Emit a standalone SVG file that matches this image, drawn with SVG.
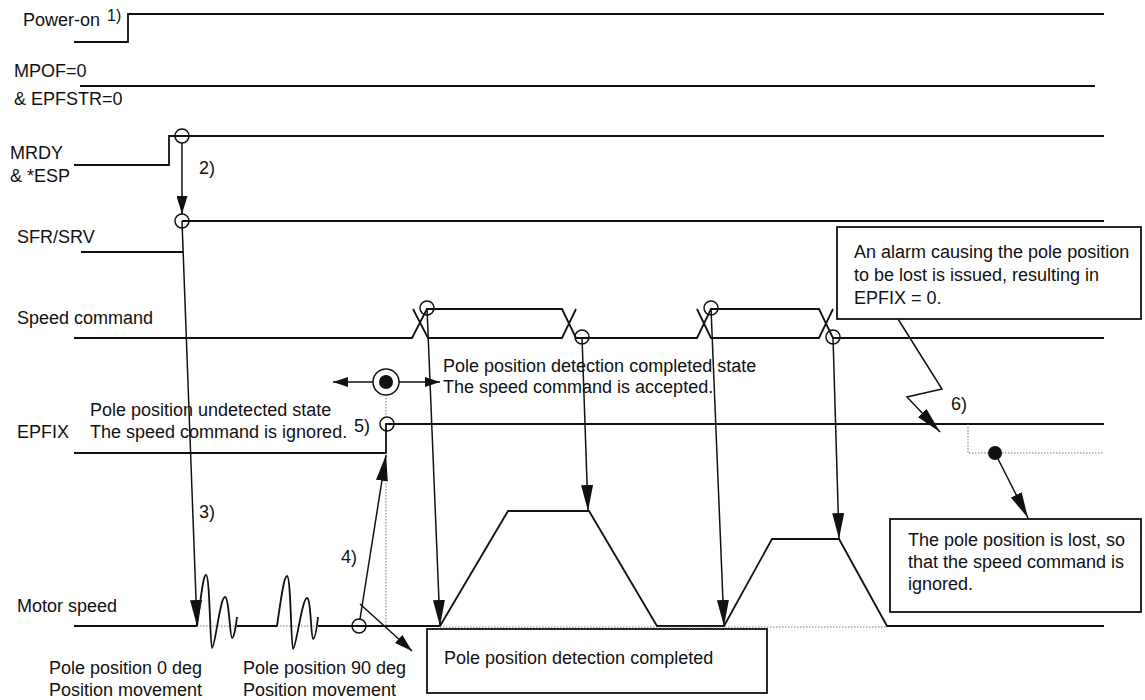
<svg xmlns="http://www.w3.org/2000/svg" width="1145" height="700" viewBox="0 0 1145 700">
<style>
text{font-family:"Liberation Sans",Arial,sans-serif;font-size:18px;fill:#111}
.sig{fill:none;stroke:#111;stroke-width:1.8;stroke-linejoin:miter}
.wig{fill:none;stroke:#111;stroke-width:1.8}
.con{fill:none;stroke:#111;stroke-width:1.5}
.dot{fill:none;stroke:#777;stroke-width:1;stroke-dasharray:1.5,1.5}
.oc{fill:none;stroke:#111;stroke-width:1.5}
.box{fill:#fff;stroke:#111;stroke-width:1.8}
</style>
<defs>
<marker id="ah" viewBox="0 0 18 11" refX="18" refY="5.5" markerWidth="18" markerHeight="11" markerUnits="userSpaceOnUse" orient="auto"><path d="M0,0 L18,5.5 L0,11 z" fill="#111"/></marker>
<marker id="ahL" viewBox="0 0 26 12" refX="26" refY="6" markerWidth="26" markerHeight="12" markerUnits="userSpaceOnUse" orient="auto"><path d="M0,0 L26,6 L0,12 z" fill="#111"/></marker>
<marker id="ahS" viewBox="0 0 15 10" refX="15" refY="5" markerWidth="15" markerHeight="10" markerUnits="userSpaceOnUse" orient="auto"><path d="M0,0 L15,5 L0,10 z" fill="#111"/></marker>
</defs>
<rect width="1145" height="700" fill="#fff"/>

<g id="power-on">
<text x="23" y="26">Power-on</text>
<text x="107" y="21" style="font-size:16px">1)</text>
<polyline class="sig" points="74,42 128,42 128,14 1104,14"/>
</g>

<g id="mpof">
<text x="14" y="77">MPOF=0</text>
<text x="14" y="105">&amp; EPFSTR=0</text>
<line class="sig" x1="80" y1="86" x2="1095" y2="86"/>
</g>

<g id="mrdy">
<text x="10" y="159">MRDY</text>
<text x="10" y="182">&amp; *ESP</text>
<polyline class="sig" points="74,165 169,165 169,136 1104,136"/>
<circle class="oc" cx="182" cy="136" r="7"/>
</g>

<g id="sfr-srv">
<text x="17" y="243">SFR/SRV</text>
<polyline class="sig" points="81,252 183,252"/>
<line class="sig" x1="182" y1="221" x2="1104" y2="221"/>
<circle class="oc" cx="182" cy="221" r="7"/>
</g>

<g id="speed-command">
<text x="17" y="324">Speed command</text>
<polyline class="sig" points="74,338 412,338 427,309 562,309 576,338 697,338 711,309 819,309 833,338 1104,338"/>
<polyline class="sig" points="413,309 428,338 562,338 576,309"/>
<polyline class="sig" points="697,309 711,338 819,338 833,309"/>
<circle class="oc" cx="427" cy="308" r="7"/>
<circle class="oc" cx="582" cy="337" r="7"/>
<circle class="oc" cx="711" cy="308" r="7"/>
<circle class="oc" cx="833" cy="337" r="7"/>
</g>

<g id="epfix">
<text x="17" y="438">EPFIX</text>
<polyline class="sig" points="74,453 386,453 386,424 1104,424"/>
<circle class="oc" cx="387" cy="424" r="7"/>
<text x="90" y="416">Pole position undetected state</text>
<text x="90" y="438">The speed command is ignored.</text>
<text x="443" y="372">Pole position detection completed state</text>
<text x="443" y="393">The speed command is accepted.</text>
<circle cx="386" cy="382" r="13" fill="#fff" stroke="#111" stroke-width="1.5"/>
<circle cx="386" cy="382" r="7" fill="#111"/>
</g>

<g id="motor-speed">
<text x="17" y="612">Motor speed</text>
<line class="sig" x1="74" y1="626" x2="197" y2="626"/>
<line class="dot" x1="197" y1="626" x2="237" y2="626"/>
<path class="wig" d="M197,626 C201,598 203,575 206,575 C210,575 210,648 212,648 C215,648 220,597 225,597 C229,597 230,638 232,638 C234,638 236,626 237,617"/>
<line class="sig" x1="237" y1="626" x2="277" y2="626"/>
<line class="dot" x1="277" y1="626" x2="318" y2="626"/>
<path class="wig" d="M277,626 C281,598 284,576 287,576 C291,576 291,649 293,649 C296,649 302,598 307,598 C311,598 311,639 313,639 C315,639 317,626 318,617"/>
<polyline class="sig" points="318,626 440,626 508,511 589,511 657,626 724,626 772,539 839,539 887,626 1104,626"/>
<line class="dot" x1="440" y1="627" x2="887" y2="627"/>
<circle class="oc" cx="359" cy="626" r="7"/>
<text x="49" y="674">Pole position 0 deg</text>
<text x="49" y="696">Position movement</text>
<text x="243" y="674">Pole position 90 deg</text>
<text x="243" y="696">Position movement</text>
</g>

<g id="box-completed">
<rect class="box" x="427" y="629" width="340" height="64"/>
<text x="444" y="664">Pole position detection completed</text>
</g>

<g id="box-alarm">
<rect class="box" x="837" y="227" width="304" height="92"/>
<text x="854" y="258">An alarm causing the pole position</text>
<text x="854" y="281">to be lost is issued, resulting in</text>
<text x="854" y="304">EPFIX = 0.</text>
</g>

<g id="box-lost">
<rect class="box" x="890" y="519" width="251" height="93"/>
<text x="908" y="546">The pole position is lost, so</text>
<text x="908" y="568">that the speed command is</text>
<text x="908" y="590">ignored.</text>
</g>

<g id="connectors">
<line class="dot" x1="386" y1="395" x2="386" y2="417"/>
<line class="dot" x1="386" y1="453" x2="386" y2="626"/>
<line class="con" x1="182" y1="143" x2="182" y2="214" marker-end="url(#ah)"/>
<line class="con" x1="182" y1="221" x2="197" y2="626" marker-end="url(#ahL)"/>
<line class="con" x1="360" y1="619" x2="386" y2="455" marker-end="url(#ahL)"/>
<line class="con" x1="360" y1="604" x2="412" y2="651" marker-end="url(#ah)"/>
<line class="con" x1="373" y1="382" x2="333" y2="382" marker-end="url(#ahS)"/>
<line class="con" x1="399" y1="382" x2="440" y2="382" marker-end="url(#ahS)"/>
<line class="con" x1="427" y1="308" x2="440" y2="626" marker-end="url(#ahL)"/>
<line class="con" x1="582" y1="337" x2="588" y2="511" marker-end="url(#ahL)"/>
<line class="con" x1="711" y1="308" x2="724" y2="626" marker-end="url(#ahL)"/>
<line class="con" x1="833" y1="337" x2="839" y2="539" marker-end="url(#ahL)"/>
<polyline class="con" points="898,319 942,389 907,397 940,432" marker-end="url(#ahL)"/>
<polyline class="dot" points="968,424 968,453 1104,453"/>
<circle cx="995" cy="453" r="7" fill="#111"/>
<line class="con" x1="995" y1="453" x2="1028" y2="518" marker-end="url(#ahL)"/>
<text x="199" y="174">2)</text>
<text x="199" y="518">3)</text>
<text x="341" y="563">4)</text>
<text x="354" y="432">5)</text>
<text x="951" y="410">6)</text>
</g>
</svg>
